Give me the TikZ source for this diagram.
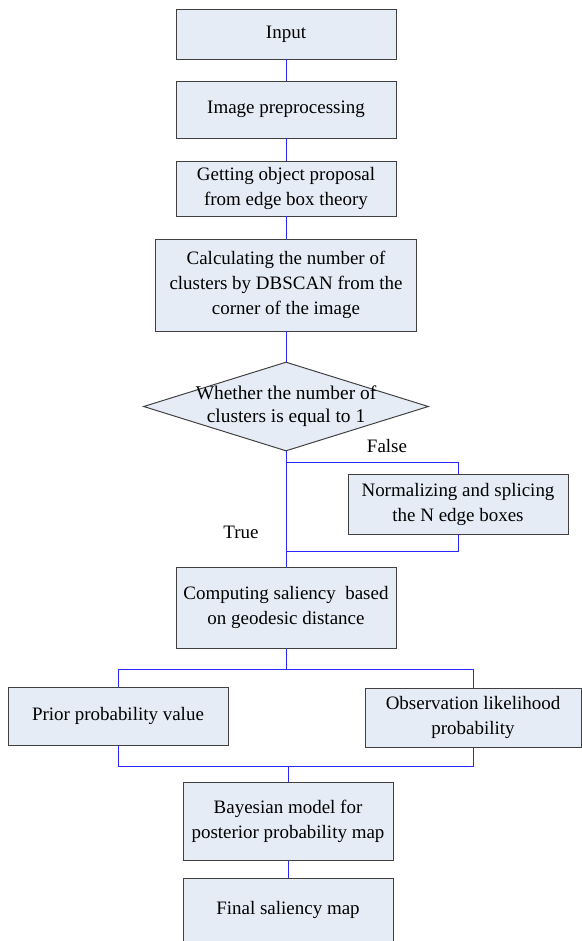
\documentclass[tikz,border=0pt]{standalone}
\usepackage{fontspec}
\setmainfont{Liberation Serif}
\usetikzlibrary{shapes.geometric}
\definecolor{boxfill}{RGB}{230,236,246}
\definecolor{boxline}{RGB}{64,64,64}
\definecolor{flow}{RGB}{40,40,255}

\begin{document}
\begin{tikzpicture}[font=\fontsize{13.5}{17.8}\selectfont]
\tikzstyle{b}=[draw=boxline,fill=boxfill,line width=0.7pt,minimum width=5.5cm,align=center,inner sep=2pt]
\tikzstyle{cl}=[draw=flow,line width=0.7pt]
\clip (0,0) rectangle (14.55,-23.525);
\node[b,minimum height=1.25cm] (in) at (7.15,-0.85) {Input};
\node[b,minimum height=1.425cm] (pre) at (7.15,-2.7375) {Image preprocessing};
\node[b,minimum height=1.375cm] (prop) at (7.15,-4.7125) {Getting object proposal\\ from edge box theory};
\node[b,minimum width=6.525cm,minimum height=2.3cm] (clus) at (7.15,-7.125) {Calculating the number of\\ clusters by DBSCAN from the\\ corner of the image};
\node[draw=boxline,fill=boxfill,line width=0.7pt,diamond,minimum width=7.125cm,minimum height=2.225cm,inner sep=0pt] (dia) at (7.15,-10.1625) {};
\node[align=center,font=\fontsize{13.8}{16.6}\selectfont] (diat) at (dia.center) {Whether the number of\\ clusters is equal to 1};
\node[b,minimum height=1.5cm] (norm) at (11.45,-12.6) {Normalizing and splicing\\ the N edge boxes};
\node[b,minimum height=2.025cm] (comp) at (7.15,-15.1875) {Computing saliency\ \ based\\ on geodesic distance};
\node[b,minimum height=1.45cm] (prior) at (2.95,-17.9) {Prior probability value};
\node[b,minimum width=5.4cm,minimum height=1.475cm] (obs) at (11.825,-17.9375) {Observation likelihood\\ probability};
\node[b,minimum width=5.25cm,minimum height=1.95cm] (bay) at (7.2,-20.525) {Bayesian model for\\ posterior probability map};
\node[b,minimum width=5.25cm,minimum height=1.6cm] (fin) at (7.2,-22.75) {Final saliency map};
\node (false) at (9.675,-11.15) {False};
\node (true) at (6.025,-13.3) {True};
% joints of the branches
\coordinate (fb) at (7.15,-11.55);
\coordinate (tb) at (7.15,-13.775);
\coordinate (sp) at (7.15,-16.725);
\coordinate (mg) at (7.2,-19.15);
\draw[cl] (in.south) -- (pre.north); \draw[cl] (pre.south) -- (prop.north); \draw[cl] (prop.south) -- (clus.north);
\draw[cl] (clus.south) -- (dia.north); \draw[cl] (dia.south) -- (comp.north);
\draw[cl] (fb) -| (norm.north); \draw[cl] (norm.south) |- (tb);
\draw[cl] (comp.south) -- (sp); \draw[cl] (prior.north) |- (sp); \draw[cl] (obs.north) |- (sp);
\draw[cl] (prior.south) |- (mg); \draw[cl] (obs.south) |- (mg); \draw[cl] (mg) -- (bay.north);
\draw[cl] (bay.south) -- (fin.north);
\end{tikzpicture}
\end{document}
